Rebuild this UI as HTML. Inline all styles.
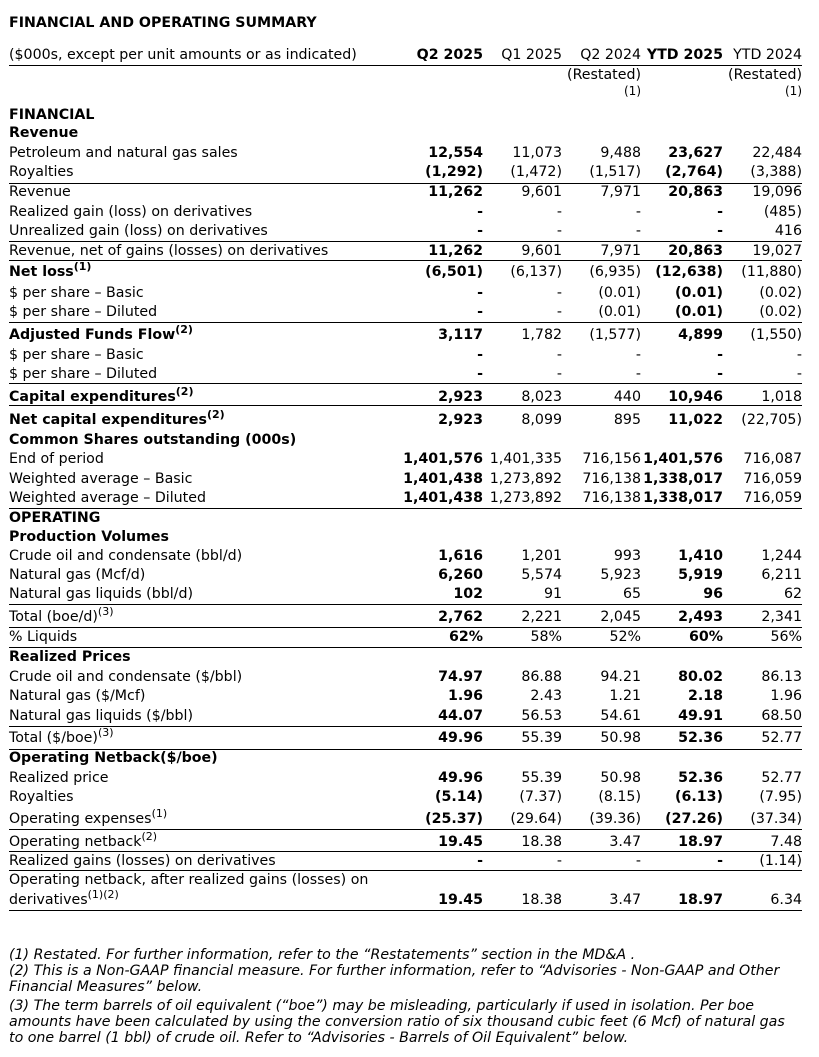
<!DOCTYPE html>
<html><head><meta charset="utf-8">
<style>
body{margin:0;background:#fff;width:819px;height:1057px;position:relative;overflow:hidden;font-family:"DejaVu Sans",Verdana,sans-serif;font-size:14.2px;color:#000}
.t{position:absolute;white-space:nowrap;line-height:16px}
.b{font-weight:bold}
.r{text-align:right}
sup{font-size:11px;vertical-align:6px;line-height:0}
.ln{position:absolute;left:9px;width:793px;height:0;border-top:1.3px solid #000}
.fn{position:absolute;left:9px;font-style:italic;white-space:nowrap;line-height:16px}
</style></head><body>
<div id="tbl"></div>
<script>
const colRight=[483,562,641,723,802];
const lines=[65,183,241,260,322,383,405,508,604,627,647,726,749,829,851,870,910];
const rows=[
[23,'FINANCIAL AND OPERATING SUMMARY',1,null],
[55,'($000s, except per unit amounts or as indicated)',0,['Q2 2025','Q1 2025','Q2 2024','YTD 2025','YTD 2024']],
[75,'',0,['','','(Restated)','','(Restated)']],
[91,'',0,['','','<span style="font-size:12px">(1)</span>','','<span style="font-size:12px">(1)</span>']],
[115,'FINANCIAL',1,null],
[133,'Revenue',1,null],
[153,'Petroleum and natural gas sales',0,['12,554','11,073','9,488','23,627','22,484']],
[172,'Royalties',0,['(1,292)','(1,472)','(1,517)','(2,764)','(3,388)']],
[192,'Revenue',0,['11,262','9,601','7,971','20,863','19,096']],
[212,'Realized gain (loss) on derivatives',0,['-','-','-','-','(485)']],
[231,'Unrealized gain (loss) on derivatives',0,['-','-','-','-','416']],
[251,'Revenue, net of gains (losses) on derivatives',0,['11,262','9,601','7,971','20,863','19,027']],
[272,'Net loss<sup>(1)</sup>',1,['(6,501)','(6,137)','(6,935)','(12,638)','(11,880)']],
[293,'$ per share – Basic',0,['-','-','(0.01)','(0.01)','(0.02)']],
[312,'$ per share – Diluted',0,['-','-','(0.01)','(0.01)','(0.02)']],
[335,'Adjusted Funds Flow<sup>(2)</sup>',1,['3,117','1,782','(1,577)','4,899','(1,550)']],
[355,'$ per share – Basic',0,['-','-','-','-','-']],
[374,'$ per share – Diluted',0,['-','-','-','-','-']],
[397,'Capital expenditures<sup>(2)</sup>',1,['2,923','8,023','440','10,946','1,018']],
[420,'Net capital expenditures<sup>(2)</sup>',1,['2,923','8,099','895','11,022','(22,705)']],
[440,'Common Shares outstanding (000s)',1,null],
[459,'End of period',0,['1,401,576','1,401,335','716,156','1,401,576','716,087']],
[479,'Weighted average – Basic',0,['1,401,438','1,273,892','716,138','1,338,017','716,059']],
[498,'Weighted average – Diluted',0,['1,401,438','1,273,892','716,138','1,338,017','716,059']],
[518,'OPERATING',1,null],
[537,'Production Volumes',1,null],
[556,'Crude oil and condensate (bbl/d)',0,['1,616','1,201','993','1,410','1,244']],
[575,'Natural gas (Mcf/d)',0,['6,260','5,574','5,923','5,919','6,211']],
[594,'Natural gas liquids (bbl/d)',0,['102','91','65','96','62']],
[617,'Total (boe/d)<sup>(3)</sup>',0,['2,762','2,221','2,045','2,493','2,341']],
[637,'% Liquids',0,['62%','58%','52%','60%','56%']],
[657,'Realized Prices',1,null],
[677,'Crude oil and condensate ($/bbl)',0,['74.97','86.88','94.21','80.02','86.13']],
[696,'Natural gas ($/Mcf)',0,['1.96','2.43','1.21','2.18','1.96']],
[716,'Natural gas liquids ($/bbl)',0,['44.07','56.53','54.61','49.91','68.50']],
[738,'Total ($/boe)<sup>(3)</sup>',0,['49.96','55.39','50.98','52.36','52.77']],
[758,'Operating Netback($/boe)',1,null],
[778,'Realized price',0,['49.96','55.39','50.98','52.36','52.77']],
[797,'Royalties',0,['(5.14)','(7.37)','(8.15)','(6.13)','(7.95)']],
[819,'Operating expenses<sup>(1)</sup>',0,['(25.37)','(29.64)','(39.36)','(27.26)','(37.34)']],
[842,'Operating netback<sup>(2)</sup>',0,['19.45','18.38','3.47','18.97','7.48']],
[861,'Realized gains (losses) on derivatives',0,['-','-','-','-','(1.14)']],
[880,'Operating netback, after realized gains (losses) on',0,null],
[900,'derivatives<sup>(1)(2)</sup>',0,['19.45','18.38','3.47','18.97','6.34']]
];
const footnotes=[
[955,'(1) Restated. For further information, refer to the “Restatements” section in the MD&amp;A .'],
[971,'(2) This is a Non-GAAP financial measure. For further information, refer to “Advisories - Non-GAAP and Other'],
[987,'Financial Measures” below.'],
[1006,'(3) The term barrels of oil equivalent (“boe”) may be misleading, particularly if used in isolation. Per boe'],
[1022,'amounts have been calculated by using the conversion ratio of six thousand cubic feet (6 Mcf) of natural gas'],
[1038,'to one barrel (1 bbl) of crude oil.  Refer to “Advisories - Barrels of Oil Equivalent” below.']
];
const root=document.getElementById('tbl');
rows.forEach((r,i)=>{
  if(r[1]){
    const d=document.createElement('div');
    d.className='t'+(r[2]?' b':'');
    d.style.left='9px';d.style.top=(r[0]-8)+'px';
    d.innerHTML=r[1];
    
    
    root.appendChild(d);
  }
  if(r[3]){
    r[3].forEach((v,c)=>{
      if(!v)return;
      const d=document.createElement('div');
      d.className='t r'+((c===0||c===3)?' b':'');
      d.style.right=(819-colRight[c])+'px';d.style.top=(r[0]-8)+'px';
      d.innerHTML=v;
      
      
      root.appendChild(d);
    });
  }
});
lines.forEach(y=>{
  const d=document.createElement('div');
  d.className='ln';d.style.top=y+'px';
  
  
  root.appendChild(d);
});
footnotes.forEach(f=>{
  const d=document.createElement('div');
  d.className='fn';d.style.top=(f[0]-8)+'px';
  d.innerHTML=f[1];
  
  
  root.appendChild(d);
});
</script>
</body></html>
